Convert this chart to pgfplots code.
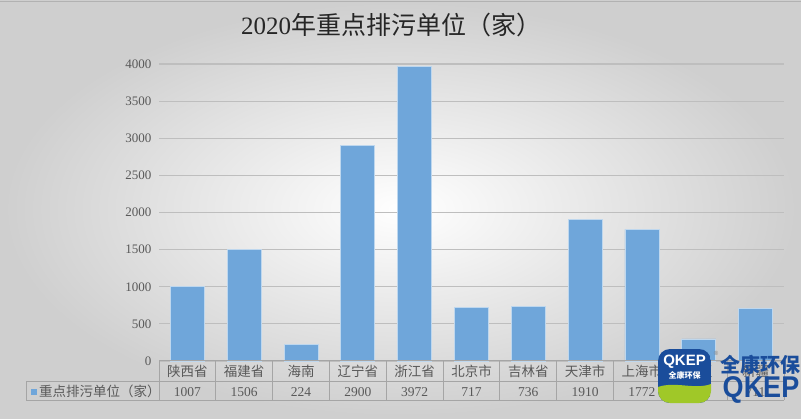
\documentclass[border=0pt]{standalone}
\usepackage{pgfplots}
\pgfplotsset{compat=1.18}
\usepackage{fontspec}
\setmainfont{Liberation Serif}
\setsansfont{Liberation Sans}
\newfontfamily\cjk{Noto Sans CJK SC}
\definecolor{barblue}{RGB}{111,166,218}
\definecolor{txt}{RGB}{89,89,89}
\definecolor{gridc}{RGB}{190,190,190}
\definecolor{tabc}{RGB}{165,165,165}
\definecolor{qblue}{RGB}{26,77,155}
\definecolor{qgreen}{RGB}{160,200,40}
\newcommand\tl[2]{{\cjk #1}\\#2}
\begin{document}
\begin{tikzpicture}
\begin{scope}[x=1pt,y=1pt]
\shade[inner color=white, outer color=black!19] (0,0) rectangle (801,418);
\useasboundingbox (0,0) rectangle (801,418);
\draw[black!30, line width=1pt] (0,416.5) -- (801,416.5);
\node[font=\fontsize{25}{25}\selectfont, text=black!85] at (391,393) {2020{\cjk 年重点排污单位（家）}};
\end{scope}
\begin{axis}[at={(159pt,57pt)}, anchor=south west, scale only axis,
  width=625pt, height=297pt,
  xmin=-0.5, xmax=10.5, ymin=0, ymax=4000,
  ytick={0,500,...,4000}, xtick={0,...,10},
  xticklabels={{\tl{陕西省}{1007}},{\tl{福建省}{1506}},{\tl{海南}{224}},{\tl{辽宁省}{2900}},{\tl{浙江省}{3972}},{\tl{北京市}{717}},{\tl{吉林省}{736}},{\tl{天津市}{1910}},{\tl{上海市}{1772}},{\tl{宁夏}{297}},{\tl{新疆}{711}}},
  axis line style={draw=none}, major tick length=0pt,
  ymajorgrids, grid style={gridc, line width=1.2pt},
  /pgf/number format/assume math mode=true,
  /pgf/number format/1000 sep={},
  yticklabel style={font=\fontsize{13}{13}\selectfont, text=txt, xshift=-4pt},
  xticklabel style={anchor=north, inner sep=0pt, yshift=-4pt, align=center, font=\fontsize{13.5}{20}\selectfont, text=txt},
  clip=false]
\addplot[ybar, bar width=34pt, fill=barblue, draw=white!55!barblue, line width=0.8pt]
  coordinates {(0,1007) (1,1506) (2,224) (3,2900) (4,3972) (5,717) (6,736) (7,1910) (8,1772) (9,297) (10,711)};
\end{axis}
\begin{scope}[x=1pt,y=1pt]
% data table lines
\draw[tabc, line width=1pt] (159,57) -- (784,57);
\draw[tabc, line width=1pt] (26,36) -- (784,36);
\draw[tabc, line width=1pt] (26,18) -- (784,18);
\draw[tabc, line width=1pt] (26,36) -- (26,18);
\foreach \k in {0,...,11} {\draw[tabc, line width=1pt] ({159+56.818*\k},57) -- ({159+56.818*\k},18);}
\fill[barblue] (30.7,23.2) rectangle (36.7,29.2);
\node[anchor=west, inner sep=0pt, font=\cjk\fontsize{13.5}{13.5}\selectfont, text=txt] at (39,26.5) {重点排污单位（家）};
% watermark logo
\begin{scope}
\clip[rounded corners=12pt] (658,15) rectangle (711,69);
\fill[qblue] (658,15) rectangle (711,69);
\fill[qgreen] (658,15) -- (658,31) .. controls (675,37) and (695,28) .. (711,34) -- (711,15) -- cycle;
\end{scope}
\node[font=\sffamily\bfseries\fontsize{15}{15}\selectfont, text=white] at (684.5,56) {QKEP};
\node[font=\cjk\bfseries\fontsize{8}{8}\selectfont, text=white] at (684.5,43) {全康环保};
\node[font=\cjk\bfseries\fontsize{20}{20}\selectfont, text=qblue, inner sep=0pt] at (760,53) {全康环保};
\node[font=\sffamily\bfseries\fontsize{30}{30}\selectfont, text=qblue, inner sep=0pt, xscale=0.9] at (761,28) {QKEP};
\node[font=\sffamily\fontsize{6}{6}\selectfont, text=black!50] at (716,65) {\textregistered};
\end{scope}
\end{tikzpicture}
\end{document}
